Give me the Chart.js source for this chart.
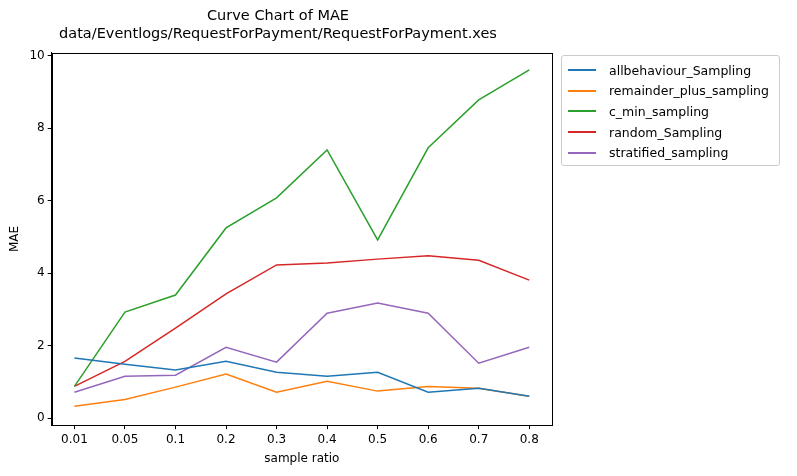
<!DOCTYPE html>
<html><head><script src="https://cdn.jsdelivr.net/npm/chart.js@4"></script>
<style>body{margin:0;background:#fff;font-family:"DejaVu Sans";}#w{position:relative;width:797px;height:476px}
#lg{position:absolute;left:561px;top:55px;width:219px;height:111px;border:1px solid #ccc;border-radius:3px;font-size:12.5px;box-sizing:border-box;padding:4px 6px}
#lg div{height:20.6px;display:flex;align-items:center}#lg span{display:inline-block;width:28px;height:2px;margin-right:13px}</style></head>
<body><div id="w"><canvas id="c" width="797" height="476"></canvas><div id="lg"></div></div>
<script>
const categories=["0.01","0.05","0.1","0.2","0.3","0.4","0.5","0.6","0.7","0.8"];
const allbehaviour=[1.66,1.49,1.33,1.57,1.27,1.16,1.27,0.72,0.83,0.61];
const remainder=[0.33,0.52,0.86,1.22,0.72,1.02,0.75,0.88,0.83,0.61];
const cmin=[0.88,2.93,3.40,5.25,6.08,7.40,4.92,7.46,8.78,9.61];
const random=[0.88,1.57,2.49,3.43,4.23,4.28,4.39,4.48,4.36,3.81];
const stratified=[0.72,1.16,1.19,1.96,1.55,2.90,3.18,2.90,1.52,1.96];
const names=["allbehaviour_Sampling","remainder_plus_sampling","c_min_sampling","random_Sampling","stratified_sampling"];
const colors=["#1f77b4","#ff7f0e","#2ca02c","#d62728","#9467bd"];
const series=[allbehaviour,remainder,cmin,random,stratified];
const lg=document.getElementById('lg');
names.forEach((n,i)=>{lg.innerHTML+=`<div><span style="background:${colors[i]}"></span>${n}</div>`});
const frame={id:'frame',afterDraw(c){const a=c.chartArea,x=c.ctx;x.save();x.strokeStyle='#000';x.lineWidth=1;x.strokeRect(Math.round(a.left)+0.5,Math.round(a.top)+0.5,Math.round(a.right-a.left),Math.round(a.bottom-a.top));x.restore();}};
const g={display:true,drawOnChartArea:false,drawTicks:true,tickLength:4,tickColor:'#000'};
new Chart(document.getElementById('c'),{type:'line',
data:{datasets:series.map((s,i)=>({label:names[i],data:s.map((v,j)=>({x:j,y:v})),borderColor:colors[i],borderWidth:1.5,pointRadius:0,tension:0}))},
options:{responsive:false,animation:false,layout:{padding:{right:245,top:4,left:4,bottom:6}},
plugins:{legend:{display:false},tooltip:{enabled:false},title:{display:true,text:["Curve Chart of MAE","data/Eventlogs/RequestForPayment/RequestForPayment.xes"],color:'#000',font:{family:"DejaVu Sans",size:14.5,weight:'normal',lineHeight:1.2},padding:{top:4,bottom:10}}},
scales:{x:{type:'linear',min:-0.45,max:9.45,afterBuildTicks(a){a.ticks=categories.map((_,i)=>({value:i}))},ticks:{color:'#000',font:{family:"DejaVu Sans",size:12},callback:v=>categories[v]},grid:g,border:{color:'#000'},title:{display:true,text:'sample ratio',color:'#000',font:{family:"DejaVu Sans",size:12},padding:{top:2}}},
y:{min:-0.19,max:10.08,afterBuildTicks(a){a.ticks=[0,2,4,6,8,10].map(v=>({value:v}))},ticks:{color:'#000',font:{family:"DejaVu Sans",size:12}},grid:g,border:{color:'#000'},title:{display:true,text:'MAE',color:'#000',font:{family:"DejaVu Sans",size:12}}}}},
plugins:[frame]});
</script></body></html>
